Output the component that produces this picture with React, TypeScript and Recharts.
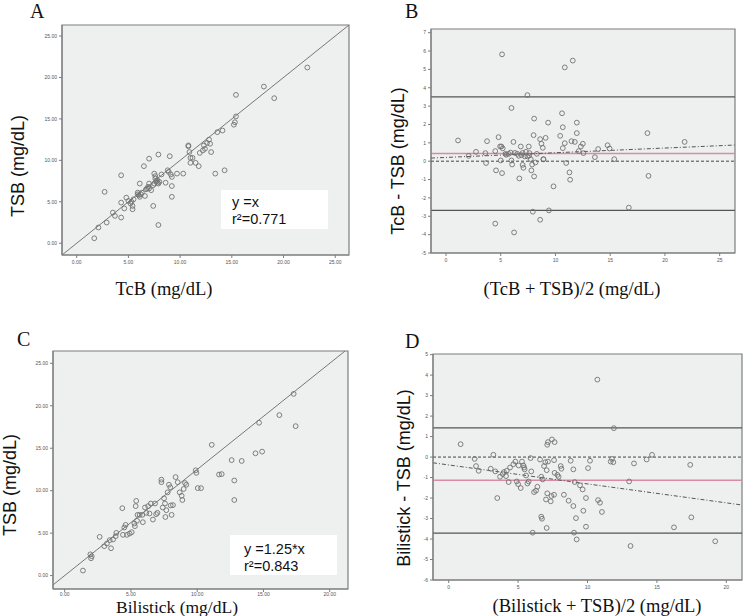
import React from "react";
import {
  ScatterChart,
  Scatter,
  XAxis,
  YAxis,
  CartesianGrid,
  ReferenceLine,
  ReferenceArea,
} from "recharts";

// A: TcB (x) vs TSB (y)
const tcbTsb: [number, number][] = [
  [1.7, 0.6], [2.1, 1.9], [2.9, 2.5], [2.7, 6.2], [3.5, 3.7], [3.7, 3.3], [4.3, 8.2], [4.3, 4.9],
  [4.3, 3.1], [4.6, 4.2], [4.8, 5.5], [5.0, 5.1], [5.2, 4.8], [5.3, 5.0], [5.4, 4.5], [5.4, 4.1],
  [5.5, 5.3], [5.9, 5.9], [5.9, 6.1], [6.0, 5.8], [6.1, 5.6], [6.1, 7.2], [6.2, 5.9], [6.3, 6.1],
  [6.5, 9.3], [6.6, 5.7], [6.7, 6.5], [6.8, 6.6], [6.9, 6.8], [7.0, 10.2], [7.0, 7.2], [7.0, 6.6],
  [7.2, 6.4], [7.4, 4.5], [7.4, 7.0], [7.5, 7.2], [7.5, 8.4], [7.6, 8.1], [7.6, 7.8], [7.7, 7.5],
  [7.8, 7.6], [7.8, 7.3], [7.9, 7.2], [7.9, 10.7], [7.9, 2.2], [8.0, 7.4], [8.2, 8.3], [8.6, 7.3],
  [8.8, 8.8], [8.9, 8.6], [9.0, 10.5], [9.1, 8.3], [9.2, 8.0], [9.2, 6.9], [9.2, 5.6], [9.7, 8.4],
  [10.3, 8.4], [10.8, 11.8], [10.8, 11.7], [10.9, 11.0], [11.0, 9.7], [11.0, 10.3], [11.2, 10.3],
  [11.5, 9.7], [11.8, 9.3], [11.9, 10.9], [12.2, 11.2], [12.3, 11.8], [12.4, 11.4], [12.6, 12.1],
  [12.8, 12.5], [12.9, 12.0], [13.0, 11.0], [13.4, 8.4], [13.6, 13.4], [14.1, 13.6], [14.3, 8.8],
  [15.2, 14.3], [15.3, 14.6], [15.4, 15.3], [15.4, 17.9], [18.1, 18.9], [19.1, 17.5], [22.3, 21.2],
];

// B: mean of TcB and TSB (x) vs difference (y)
const tcbDiff: [number, number][] = [
  [1.1, 1.13], [2.07, 0.29], [2.74, 0.51], [3.6, 0.44], [3.66, -0.1], [3.75, 1.09], [4.5, 0.55],
  [4.57, -0.5], [4.5, -3.4], [4.8, 1.31], [4.94, 0.8], [5.0, 0.04], [5.06, 0.8], [5.12, -0.65],
  [5.12, 5.82], [5.18, 0.7], [5.43, 0.4], [5.5, 0.35], [5.73, 0.4], [5.9, 0.47], [5.98, 2.9],
  [5.98, 0.04], [6.04, -0.18], [6.16, 1.05], [6.22, -3.88], [6.3, 0.45], [6.52, 0.4], [6.65, 0.29],
  [6.7, -0.94], [6.83, 0.8], [6.9, 0.33], [7.0, -0.2], [7.0, 0.45], [7.07, -0.36], [7.2, 0.26],
  [7.3, 0.51], [7.44, 3.6], [7.44, 0.26], [7.56, 0.8], [7.6, 0.3], [7.62, 0.44], [7.74, 0.11],
  [7.8, -0.5], [7.87, -0.18], [7.93, -2.75], [8.0, 1.42], [8.05, 2.32], [8.05, -0.83], [8.17, -0.07],
  [8.3, 0.4], [8.6, 1.2], [8.6, -3.19], [8.72, 0.95], [8.84, 0.73], [8.9, 0.11], [8.9, 0.1],
  [9.1, 1.27], [9.33, 2.1], [9.4, -2.68], [9.82, -1.37], [10.43, 1.38], [10.6, 2.61], [10.67, 1.85],
  [10.67, 0.71], [10.85, 5.11], [10.85, 0.98], [10.98, -0.1], [11.28, -0.61], [11.34, -1.01],
  [11.46, 1.09], [11.58, 5.48], [11.77, 1.05], [11.95, 2.1], [11.95, 1.53], [12.13, 0.55],
  [12.32, 0.8], [12.5, 0.95], [12.56, 0.44], [13.6, 0.22], [13.9, 0.66], [14.76, 0.87], [14.94, 0.69],
  [15.37, 0.11], [16.7, -2.53], [18.4, 1.53], [18.5, -0.8], [21.8, 1.05],
];

// C: Bilistick (x) vs TSB (y)
const bilistickTsb: [number, number][] = [
  [1.38, 0.59], [1.94, 2.5], [1.99, 2.04], [2.04, 2.28], [2.64, 4.56], [2.99, 3.46], [3.19, 3.77],
  [3.4, 4.17], [3.5, 3.22], [3.65, 4.25], [3.85, 4.64], [3.9, 5.03], [4.35, 7.94], [4.4, 4.8],
  [4.5, 5.66], [4.6, 5.97], [4.7, 4.8], [4.9, 4.95], [5.06, 5.11], [5.26, 6.13], [5.3, 5.82],
  [5.36, 8.18], [5.4, 8.8], [5.46, 6.45], [5.5, 7.15], [5.66, 7.15], [5.86, 7.15], [5.9, 6.29],
  [6.06, 8.02], [6.16, 7.39], [6.3, 8.18], [6.4, 7.31], [6.5, 8.49], [6.66, 6.6], [6.82, 8.49],
  [6.9, 7.23], [7.0, 7.39], [7.3, 11.3], [7.3, 11.0], [7.4, 8.02], [7.5, 9.1], [7.57, 8.49],
  [7.6, 6.9], [7.67, 7.7], [7.77, 9.8], [7.87, 10.7], [7.97, 10.4], [8.0, 8.26], [8.07, 7.15],
  [8.17, 8.3], [8.37, 11.6], [8.53, 11.0], [8.68, 9.8], [8.83, 9.4], [8.88, 8.9], [8.98, 10.2],
  [9.08, 10.9], [9.18, 10.7], [9.89, 12.4], [9.94, 12.1], [10.04, 10.3], [10.29, 10.3], [11.1, 15.4],
  [11.65, 11.9], [11.85, 11.95], [12.6, 13.6], [12.8, 11.2], [12.8, 8.9], [13.36, 13.5], [14.4, 14.4],
  [14.67, 18.0], [14.9, 14.6], [16.2, 18.9], [17.28, 21.4], [17.43, 17.6],
];

// D: mean of Bilistick and TSB (x) vs difference (y)
const bilistickDiff: [number, number][] = [
  [0.86, 0.63], [1.87, -0.09], [1.97, -0.44], [2.16, -0.67], [3.03, -0.57], [3.22, 0.11], [3.36, -0.7],
  [3.5, -2.0], [3.7, -0.96], [3.89, -0.83], [3.98, -0.73], [4.13, -0.93], [4.18, -0.67], [4.32, -1.22],
  [4.42, -0.51], [4.66, -0.35], [4.8, -0.22], [4.9, -1.19], [5.0, -1.32], [5.04, -0.41], [5.19, -1.51],
  [5.28, -0.22], [5.38, -0.41], [5.43, -0.51], [5.47, -0.6], [5.57, -0.9], [5.67, -1.29], [5.76, -1.19],
  [5.9, -0.05], [5.95, -0.7], [6.05, -3.69], [6.15, -1.71], [6.29, -1.64], [6.39, -1.45], [6.58, -0.12],
  [6.67, -0.96], [6.67, -2.91], [6.72, -3.01], [6.77, -1.09], [6.87, -0.44], [6.96, -0.25], [7.01, -2.07],
  [7.06, -0.64], [7.06, -3.46], [7.1, -1.77], [7.1, 0.6], [7.15, 0.73], [7.15, -0.22], [7.35, -2.16],
  [7.4, -1.9], [7.44, 0.86], [7.59, -0.15], [7.59, -1.84], [7.63, 0.73], [7.63, -0.77], [7.83, -0.87],
  [7.92, -0.96], [8.07, -0.44], [8.12, -0.57], [8.3, -1.84], [8.64, -2.13], [8.79, -0.18], [8.98, -0.6],
  [8.98, -2.39], [9.03, -3.69], [9.08, -1.22], [9.17, -2.98], [9.22, -4.02], [9.46, -1.38], [9.65, -1.58],
  [9.7, -2.62], [9.89, -2.0], [9.89, -3.4], [10.04, -0.54], [10.18, -0.18], [10.71, 3.78], [10.76, -2.1],
  [10.9, -2.23], [11.04, -2.68], [11.67, -0.22], [11.76, -0.09], [11.86, -0.25], [11.9, 1.41], [13.0, -1.19],
  [13.1, -4.34], [13.35, -0.31], [14.26, -0.12], [14.65, 0.11], [16.23, -3.43], [17.4, -0.38], [17.48, -2.94],
  [19.2, -4.11],
];

// Bland-Altman lines: [upper limit, lower limit], bias, trend line end points
const limitsB = [3.5, -2.68];
const biasB = 0.42;
const trendB: [number, number][] = [[-1.37, 0.17], [26.4, 0.88]];
const limitsD = [1.42, -3.71];
const biasD = -1.13;
const trendD: [number, number][] = [[-1.13, -0.28], [21.13, -2.34]];

const slopeC = 1.25;

const ticks25 = [0, 5, 10, 15, 20, 25];
const ticks20 = [0, 5, 10, 15, 20];
const ticksDiffB = [-5, -4, -3, -2, -1, 0, 1, 2, 3, 4, 5, 6, 7];
const ticksDiffD = [-6, -5, -4, -3, -2, -1, 0, 1, 2, 3, 4, 5];

const PLOT_BG = "#edf0ee";
const AXIS = "#7d7d7d";
const DOT = "#727272";
const PINK = "#d98aa6";
const SANS = "'Liberation Sans', Arial, sans-serif";
const SERIF = "'Liberation Serif', 'Times New Roman', serif";

const tickStyle = { fontSize: 5, fill: "#555", fontFamily: SANS };

const toXY = (pts: [number, number][]) => pts.map(([x, y]) => ({ x, y }));

const ring = (p: any) => (
  <circle cx={p.cx} cy={p.cy} r={2.4} fill="none" stroke={DOT} strokeWidth={0.9} />
);

interface PanelProps {
  left: number;
  top: number;
  height: number;
  margin: { top: number; right: number; bottom: number; left: number };
  points: [number, number][];
  xDomain: [number, number];
  yDomain: [number, number];
  xTicks: number[];
  yTicks: number[];
  decimals: number;
  xTickMargin?: number;
  children?: React.ReactNode;
}

const Panel = ({
  left, top, height, margin, points, xDomain, yDomain, xTicks, yTicks, decimals, xTickMargin = 2, children,
}: PanelProps) => (
  <div style={{ position: "absolute", left, top }}>
    <ScatterChart width={372} height={height} margin={margin}>
      <CartesianGrid horizontal={false} vertical={false} fill={PLOT_BG} stroke="none" />
      <XAxis
        type="number"
        dataKey="x"
        domain={xDomain}
        ticks={xTicks}
        interval={0}
        allowDataOverflow
        tickFormatter={(v: number) => v.toFixed(decimals)}
        tick={tickStyle}
        tickSize={3}
        tickMargin={xTickMargin}
        tickLine={{ stroke: AXIS }}
        axisLine={{ stroke: AXIS }}
        height={20}
      />
      <YAxis
        type="number"
        dataKey="y"
        domain={yDomain}
        ticks={yTicks}
        interval={0}
        allowDataOverflow
        tickFormatter={(v: number) => v.toFixed(decimals)}
        tick={tickStyle}
        tickSize={3}
        tickLine={{ stroke: AXIS }}
        axisLine={{ stroke: AXIS }}
        width={40}
      />
      {children}
      <Scatter data={toXY(points)} shape={ring} isAnimationActive={false} />
      <ReferenceArea
        x1={xDomain[0]}
        x2={xDomain[1]}
        y1={yDomain[0]}
        y2={yDomain[1]}
        fill="none"
        stroke={AXIS}
        strokeWidth={1.2}
        ifOverflow="visible"
      />
    </ScatterChart>
  </div>
);

const blandAltmanLines = (limits: number[], bias: number, trend: [number, number][]) => (
  <>
    {limits.map((v) => (
      <ReferenceLine key={v} y={v} stroke="#555" strokeWidth={1.2} />
    ))}
    <ReferenceLine y={0} stroke="#444" strokeDasharray="3 2" strokeWidth={1} />
    <ReferenceLine y={bias} stroke={PINK} strokeWidth={1.6} />
    <ReferenceLine
      segment={trend.map(([x, y]) => ({ x, y }))}
      stroke="#555"
      strokeDasharray="4 2 1 2"
      strokeWidth={1}
      ifOverflow="visible"
    />
  </>
);

const domainA: [number, number] = [-1.42, 26.33];
const domainCx: [number, number] = [-0.88, 21.38];
const domainCy: [number, number] = [-1.58, 26.45];

export default function App() {
  return (
    <div style={{ position: "absolute", left: 0, top: 0, width: 744, height: 616, background: "#fff" }}>
      <Panel
        left={0}
        top={0}
        height={300}
        margin={{ top: 25, right: 23, bottom: 25, left: 22 }}
        points={tcbTsb}
        xDomain={domainA}
        yDomain={domainA}
        xTicks={ticks25}
        yTicks={ticks25}
        decimals={2}
      >
        <ReferenceLine
          segment={[{ x: domainA[0], y: domainA[0] }, { x: domainA[1], y: domainA[1] }]}
          stroke="#777"
          strokeWidth={1}
          ifOverflow="visible"
        />
      </Panel>
      <Panel
        left={372}
        top={0}
        height={300}
        margin={{ top: 29, right: 9, bottom: 27, left: 19 }}
        points={tcbDiff}
        xDomain={[-1.37, 26.4]}
        yDomain={[-5, 7.2]}
        xTicks={ticks25}
        yTicks={ticksDiffB}
        decimals={0}
      >
        {blandAltmanLines(limitsB, biasB, trendB)}
      </Panel>
      <Panel
        left={0}
        top={306}
        height={310}
        margin={{ top: 45, right: 24, bottom: 7, left: 13 }}
        points={bilistickTsb}
        xDomain={domainCx}
        yDomain={domainCy}
        xTicks={ticks20}
        yTicks={ticks25}
        decimals={2}
        xTickMargin={0}
      >
        <ReferenceLine
          segment={[
            { x: domainCx[0], y: domainCx[0] * slopeC },
            { x: domainCy[1] / slopeC, y: domainCy[1] },
          ]}
          stroke="#777"
          strokeWidth={1}
          ifOverflow="visible"
        />
      </Panel>
      <Panel
        left={372}
        top={306}
        height={310}
        margin={{ top: 48, right: 2, bottom: 16, left: 21 }}
        points={bilistickDiff}
        xDomain={[-1.13, 21.13]}
        yDomain={[-6, 5.03]}
        xTicks={ticks20}
        yTicks={ticksDiffD}
        decimals={0}
      >
        {blandAltmanLines(limitsD, biasD, trendD)}
      </Panel>

      <svg width={744} height={616} style={{ position: "absolute", left: 0, top: 0, pointerEvents: "none" }}>
        <g fontFamily={SERIF} fontSize={20} fill="#111">
          <text x={30} y={18}>A</text>
          <text x={405} y={18}>B</text>
          <text x={17} y={346}>C</text>
          <text x={405} y={348}>D</text>
        </g>
        <g fontFamily={SANS} fontSize={18} fill="#111" textAnchor="middle">
          <text transform="translate(24,166) rotate(-90)">TSB (mg/dL)</text>
          <text transform="translate(404,161) rotate(-90)">TcB - TSB (mg/dL)</text>
          <text transform="translate(16,485) rotate(-90)">TSB (mg/dL)</text>
          <text transform="translate(410,478) rotate(-90)">Bilistick - TSB (mg/dL)</text>
        </g>
        <g fontFamily={SERIF} fontSize={18.5} fill="#111" textAnchor="middle">
          <text x={164} y={295}>TcB (mg/dL)</text>
          <text x={572} y={295}>(TcB + TSB)/2 (mg/dL)</text>
          <text x={597} y={612}>(Bilistick + TSB)/2 (mg/dL)</text>
        </g>
        <text x={177} y={613} fontFamily={SERIF} fontSize={17.5} fill="#111" textAnchor="middle">
          Bilistick (mg/dL)
        </text>
        <rect x={221} y={190} width={107} height={39} fill="#fff" />
        <rect x={230} y={535} width={107} height={40} fill="#fff" />
        <g fontFamily={SANS} fontSize={14.5} fill="#111">
          <text x={232} y={207}>y =x</text>
          <text x={232} y={224}>r²=0.771</text>
          <text x={244} y={554}>y =1.25*x</text>
          <text x={244} y={571}>r²=0.843</text>
        </g>
      </svg>
    </div>
  );
}
